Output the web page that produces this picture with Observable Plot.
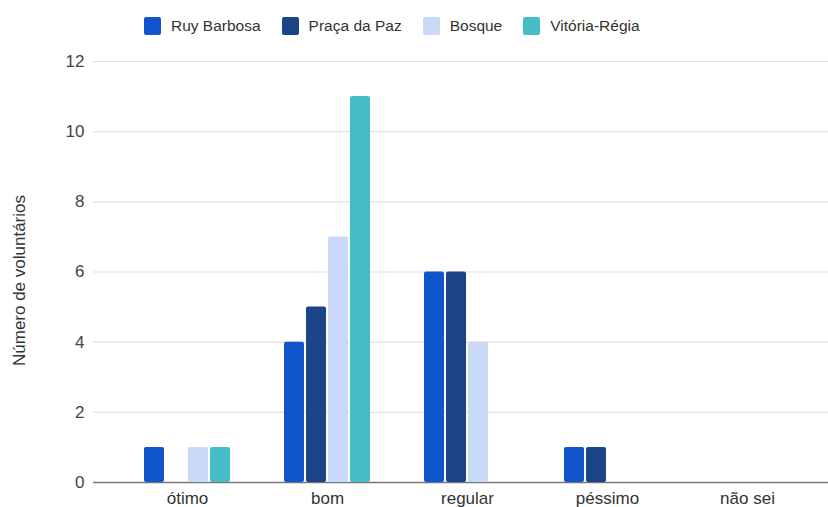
<!DOCTYPE html>
<html>
<head>
<meta charset="utf-8">
<script src="https://cdn.jsdelivr.net/npm/d3@7"></script>
<script src="https://cdn.jsdelivr.net/npm/@observablehq/plot@0.6"></script>
<style>
  html, body { margin: 0; padding: 0; background: #fff; }
  #wrap { position: relative; width: 828px; height: 507px; font-family: "Liberation Sans", Arial, sans-serif; }
  #legend { position: absolute; left: 144px; top: 17px; display: flex; align-items: center; font-size: 15.5px; color: #333; }
  #legend .item { display: flex; align-items: center; margin-right: 21px; }
  #legend .sw { width: 17px; height: 18px; border-radius: 2px; margin-right: 10px; }
  .layer { position: absolute; left: 0; top: 0; }
</style>
</head>
<body>
<div id="wrap">
  <div id="back" class="layer"></div>
  <div id="front" class="layer"></div>
  <div id="legend"></div>
</div>
<script>
const categories = ["ótimo", "bom", "regular", "péssimo", "não sei"];
const series = ["Ruy Barbosa", "Praça da Paz", "Bosque", "Vitória-Régia"];
const colors = ["#1155cc", "#1c4587", "#c9daf8", "#46bdc6"];
const ruyBarbosa   = [1, 4, 6, 1, 0];
const pracaDaPaz   = [0, 5, 6, 1, 0];
const bosque       = [1, 7, 4, 0, 0];
const vitoriaRegia = [1, 11, 0, 0, 0];
const yTicks = [0, 2, 4, 6, 8, 10, 12];
const yTitle = "Número de voluntários";

const valuesBySeries = [ruyBarbosa, pracaDaPaz, bosque, vitoriaRegia];
const data = [];
categories.forEach((c, i) => {
  series.forEach((s, j) => {
    data.push({category: c, series: s, value: valuesBySeries[j][i]});
  });
});

const font = "Liberation Sans, Arial, sans-serif";
const dims = {width: 828, height: 507, marginTop: 61, marginBottom: 25, marginLeft: 93, marginRight: 0};

// Background layer: gridlines, y tick labels, y title, baseline
const back = Plot.plot({
  ...dims,
  style: {fontFamily: font, fontSize: "17px", background: "transparent"},
  x: {axis: null},
  y: {domain: [0, 12], axis: null},
  marks: [
    Plot.ruleY(yTicks.filter(d => d !== 0), {y: d => d, stroke: "#e0e0e0", strokeWidth: 1.2}),
    Plot.axisY(yTicks, {tickSize: 0, tickPadding: 9, label: null, fill: "#444", fontSize: 17}),
    Plot.text([yTitle], {frameAnchor: "left", dx: -74, dy: 8.5, rotate: -90, textAnchor: "middle", text: d => d, fill: "#333", fontSize: 17}),
    Plot.ruleY([0], {stroke: "#777", strokeWidth: 1.3})
  ]
});
document.getElementById("back").appendChild(back);

// Front layer: grouped bars and category labels
const front = Plot.plot({
  ...dims,
  style: {fontFamily: font, fontSize: "17px", background: "transparent"},
  fx: {domain: categories, paddingInner: 0, paddingOuter: 0.125, align: 0.68, label: null},
  x: {domain: series, axis: null, paddingInner: 0.08, paddingOuter: 1.18},
  y: {domain: [0, 12], axis: null},
  color: {domain: series, range: colors},
  marks: [
    Plot.barY(data, {fx: "category", x: "series", y: "value", fill: "series", rx: 2}),
    Plot.axisFx({anchor: "bottom", tickSize: 0, tickPadding: 9, label: null, fill: "#333", fontSize: 17})
  ]
});
document.getElementById("front").appendChild(front);

const legend = document.getElementById("legend");
series.forEach((s, j) => {
  const item = document.createElement("div");
  item.className = "item";
  const sw = document.createElement("span");
  sw.className = "sw";
  sw.style.background = colors[j];
  const t = document.createElement("span");
  t.textContent = s;
  item.appendChild(sw);
  item.appendChild(t);
  legend.appendChild(item);
});
</script>
</body>
</html>
